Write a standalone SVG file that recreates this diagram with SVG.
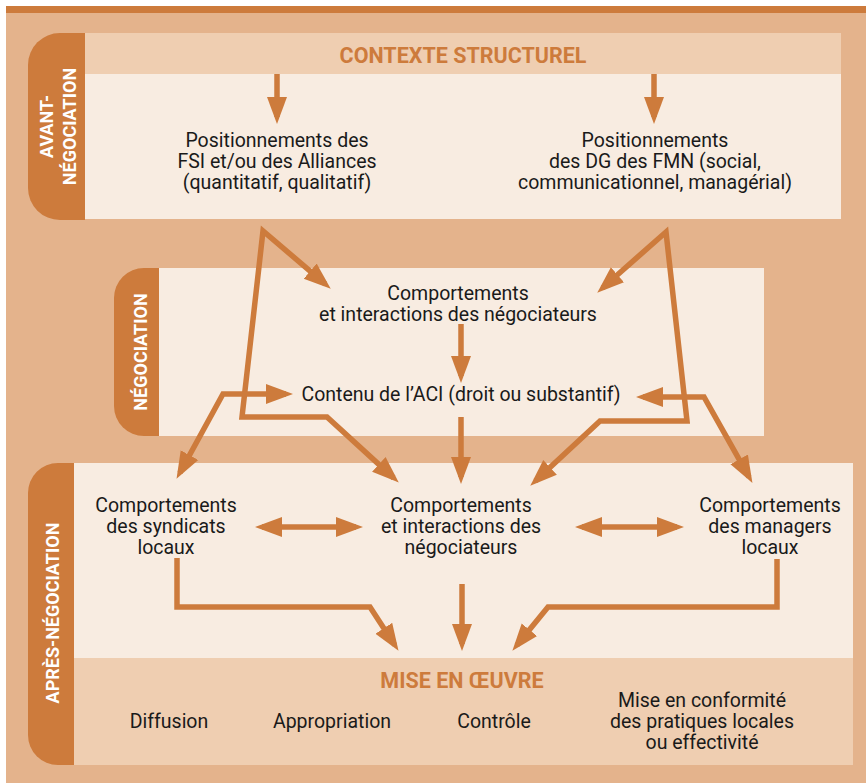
<svg xmlns="http://www.w3.org/2000/svg" width="866" height="783" viewBox="0 0 866 783">
<defs>
<style>
.bg{fill:#E4B38C}
.dark{fill:#CD7B3C}
.head{fill:#EFCEB1}
.cream{fill:#F8ECE1}
.t{font-family:Roboto,"Liberation Sans",sans-serif;font-size:19.5px;fill:#1a1a1a;text-anchor:middle}
.h{font-family:Roboto,"Liberation Sans",sans-serif;font-size:21.5px;font-weight:bold;fill:#CD7B3C;text-anchor:middle}
.v{font-family:Roboto,"Liberation Sans",sans-serif;font-size:18px;font-weight:bold;fill:#ffffff;text-anchor:middle}
.c{fill:none;stroke:#CD7B3C;stroke-width:5.5;marker-end:url(#ah)}
.cb{fill:none;stroke:#CD7B3C;stroke-width:5.5;marker-start:url(#ah);marker-end:url(#ah)}
</style>
<marker id="ah" markerUnits="userSpaceOnUse" viewBox="0 0 28 22" markerWidth="28" markerHeight="22" refX="20" refY="11" orient="auto-start-reverse">
<path d="M0,1 L27,11 L0,21 z" fill="#CD7B3C"/>
</marker>
</defs>
<rect x="0" y="0" width="866" height="783" fill="#ffffff"/>
<rect x="6" y="6" width="860" height="777" class="bg"/>
<rect x="6" y="6" width="860" height="7" class="dark"/>

<g id="avant-negociation">
<path class="dark" d="M85,33 L60,33 A32,32 0 0 0 28,65 L28,188 A32,32 0 0 0 60,220 L85,220 z"/>
<text class="v" transform="translate(53,126.5) rotate(-90)">AVANT-</text>
<text class="v" transform="translate(76,126.5) rotate(-90)">NÉGOCIATION</text>
<rect x="85" y="33" width="756" height="41" class="head"/>
<rect x="85" y="74" width="756" height="145" class="cream"/>
</g>
<g id="contexte-structurel">
<text class="h" x="463" y="63">CONTEXTE STRUCTUREL</text>
</g>
<g id="positionnements-fsi">
<text class="t" x="277" y="147">Positionnements des</text>
<text class="t" x="277" y="168">FSI et/ou des Alliances</text>
<text class="t" x="277" y="189">(quantitatif, qualitatif)</text>
</g>
<g id="positionnements-dg">
<text class="t" x="655" y="147">Positionnements</text>
<text class="t" x="655" y="168">des DG des FMN (social,</text>
<text class="t" x="655" y="189">communicationnel, managérial)</text>
</g>

<g id="negociation">
<path class="dark" d="M159,268 L144,268 A30,30 0 0 0 114,298 L114,406 A30,30 0 0 0 144,436 L159,436 z"/>
<text class="v" transform="translate(147,352) rotate(-90)">NÉGOCIATION</text>
<rect x="159" y="268" width="605" height="168" class="cream"/>
</g>
<g id="comportements-negociateurs">
<text class="t" x="458" y="300">Comportements</text>
<text class="t" x="458" y="321">et interactions des négociateurs</text>
</g>
<g id="contenu-aci">
<text class="t" x="461" y="401">Contenu de l’ACI (droit ou substantif)</text>
</g>

<g id="apres-negociation">
<path class="dark" d="M74,463 L58,463 A30,30 0 0 0 28,493 L28,735 A30,30 0 0 0 58,765 L74,765 z"/>
<text class="v" transform="translate(59,613) rotate(-90)">APRÈS-NÉGOCIATION</text>
<rect x="74" y="463" width="779" height="195" class="cream"/>
<rect x="74" y="658" width="779" height="107" class="head"/>
</g>
<g id="syndicats-locaux">
<text class="t" x="166" y="512">Comportements</text>
<text class="t" x="166" y="533">des syndicats</text>
<text class="t" x="166" y="554">locaux</text>
</g>
<g id="comportements-interactions">
<text class="t" x="461" y="512">Comportements</text>
<text class="t" x="461" y="533">et interactions des</text>
<text class="t" x="461" y="554">négociateurs</text>
</g>
<g id="managers-locaux">
<text class="t" x="770" y="512">Comportements</text>
<text class="t" x="770" y="533">des managers</text>
<text class="t" x="770" y="554">locaux</text>
</g>
<g id="mise-en-oeuvre">
<text class="h" x="462" y="688">MISE EN ŒUVRE</text>
<text class="t" x="169" y="728">Diffusion</text>
<text class="t" x="332" y="728">Appropriation</text>
<text class="t" x="494" y="728">Contrôle</text>
<text class="t" x="702" y="707">Mise en conformité</text>
<text class="t" x="702" y="728">des pratiques locales</text>
<text class="t" x="702" y="749">ou effectivité</text>
</g>

<g id="connectors">
<polyline class="c" points="277,74 277,117"/>
<polyline class="c" points="654,74 654,117"/>
<polyline class="cb" points="325.4,284.1 263,231 242,417 327,417 393.6,477.9"/>
<polyline class="cb" points="602.5,288 666,232 687,421 600,421 535.4,480.9"/>
<polyline class="cb" points="286,394 223,394 179.9,472.7"/>
<polyline class="cb" points="643,397 704,397 749,476.8"/>
<polyline class="c" points="461,324 461,376"/>
<polyline class="c" points="461,417 461,477"/>
<polyline class="cb" points="262,527 356,527"/>
<polyline class="cb" points="582,527 677,527"/>
<polyline class="c" points="462,584 462,644"/>
<polyline class="c" points="177,558 177,607 370,607 394.7,645"/>
<polyline class="c" points="777,559 777,607 548,607 516.8,645.3"/>
</g>
</svg>
